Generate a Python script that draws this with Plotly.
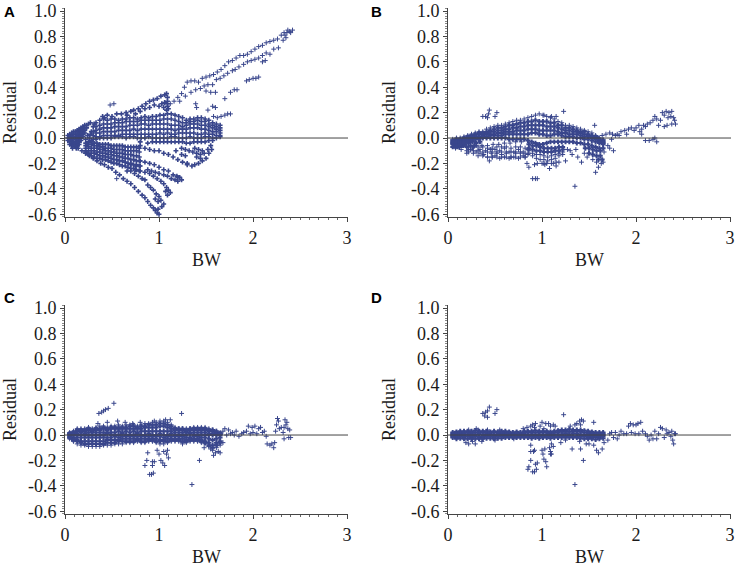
#!/usr/bin/env python3
import plotly.graph_objects as go

FIG_W = 738
FIG_H = 572
POINT_COLOR = '#39468c'

X_TICKS = [0, 1, 2, 3]
Y_TICKS = [-0.6, -0.4, -0.2, 0.0, 0.2, 0.4, 0.6, 0.8, 1.0]
Y_TICK_TEXT = ['-0.6', '-0.4', '-0.2', '0.0', '0.2', '0.4', '0.6', '0.8', '1.0']

# BW positions shared by the dense bands of panels B, C, D
BAND_BW = [
	.05, .09, .13, .17, .21, .25, .29, .33, .37, .41,
	.45, .49, .53, .57, .61, .65, .69, .73, .77, .81,
	.85, .89, .93, .97, 1.01, 1.05, 1.09, 1.13, 1.17, 1.21,
	1.25, 1.29, 1.33, 1.37, 1.41, 1.45, 1.49, 1.53, 1.57, 1.61,
	1.65,
]

# Panel A
A_BLOB = [
	(.03, 0), (.03, -.02), (.03, .02), (.05, .03), (.05, .01), (.05, -.01), (.05, -.03), (.05, -.05),
	(.07, .04), (.07, .02), (.07, 0), (.07, -.02), (.07, -.04), (.07, -.06), (.09, .05), (.09, .03),
	(.09, .01), (.09, -.01), (.09, -.03), (.09, -.05), (.11, .05), (.11, .03), (.11, .01), (.11, -.01),
	(.11, -.03), (.11, -.05), (.11, -.07), (.13, .06), (.13, .04), (.13, .02), (.13, 0), (.13, -.02),
	(.13, -.04), (.13, -.06), (.15, .07), (.15, .05), (.15, .03), (.15, .01), (.15, -.01), (.15, -.03),
	(.15, -.05), (.17, .08), (.17, .06), (.17, .04), (.17, .02), (.17, 0), (.17, -.02), (.19, .09),
	(.19, .07), (.19, .05), (.19, .03), (.19, .01), (.21, .1), (.21, .08), (.21, .06), (.21, .04),
	(.23, .1), (.23, .08), (.25, .11), (.27, .12), (.08, -.08), (.12, -.08),
	(.22, -.01), (.24, .02), (.26, 0), (.28, .05), (.3, .09), (.3, .05), (.3, .02), (.3, -.01),
	(.27, .03), (.25, -.03), (.28, -.02), (.31, .11),
]
A_ARM = [
	(1.12, .27), (1.16, .29), (1.2, .32), (1.24, .35), (1.27, .4), (1.3, .44), (1.34, .45), (1.38, .45),
	(1.42, .44), (1.46, .47), (1.5, .48), (1.54, .49), (1.58, .5), (1.62, .52), (1.66, .54), (1.7, .57),
	(1.74, .6), (1.78, .61), (1.82, .63), (1.86, .65), (1.9, .65), (1.94, .66), (1.98, .68), (2.02, .7),
	(2.06, .72), (2.1, .73), (2.14, .75), (2.18, .76), (2.22, .77), (2.26, .78), (2.3, .81), (2.33, .83),
	(2.36, .83), (2.39, .84), (2.42, .85), (2.35, .79), (2.32, .77), (2.37, .85), (2.34, .81), (2.4, .83),
	(1.22, .29), (1.28, .33), (1.34, .36), (1.39, .38), (1.44, .39), (1.48, .41), (1.52, .42), (1.57, .42),
	(1.61, .46), (1.65, .47), (1.69, .49), (1.73, .51), (1.78, .53), (1.81, .54), (1.85, .56), (1.9, .58),
	(1.94, .6), (1.98, .61), (2.02, .62), (2.06, .63), (2.1, .65), (2.14, .67), (2.18, .66), (2.22, .7),
	(2.27, .71), (2.1, .6), (2.13, .61), (1.5, .37), (1.55, .36), (1.6, .36),
	(1.57, .25), (1.6, .24), (1.7, .31), (1.76, .36), (1.8, .38), (1.83, .38), (1.93, .45), (1.96, .46),
	(2.0, .47), (2.03, .47), (2.06, .48), (1.39, .27), (1.4, .24), (1.52, .22), (1.58, .17), (1.62, .16),
	(1.66, .17), (1.7, .18), (1.73, .19), (1.76, .19), (.48, .26), (.52, .27),
]
A_TOP = [
	(.4, .17), (.42, .16), (.45, .18), (.5, .17), (.55, .19), (.6, .19), (.65, .2), (.7, .21),
	(.73, .22), (.78, .23), (.82, .25), (.86, .27), (.9, .29), (.94, .3), (.98, .31), (1.02, .33),
	(1.06, .34), (1.08, .35), (1.09, .32), (1.09, .29), (1.09, .27), (1.09, .25), (1.1, .23), (1.08, .22),
	(1.05, .24), (1.0, .25), (.95, .26), (.9, .24), (.85, .23), (.8, .21),
	(1.06, .28), (1.03, .27), (.75, .19), (.66, .18),
]
A_FAN_BW = [
	.33, .37, .41, .45, .49, .53, .57, .61, .65, .69,
	.73, .77, .81, .85, .89, .93, .97, 1.01, 1.05, 1.09,
	1.13, 1.17, 1.21, 1.25, 1.29, 1.33, 1.37, 1.41, 1.45, 1.49,
	1.53, 1.57, 1.61, 1.65,
]
A_FAN_1 = [
	.12, .14, .15, .14, .15, .15, .14, .15, .15, .16,
	.16, .15, .16, .17, .16, .17, .17, .18, .18, .19,
	.19, .18, .17, .16, .14, .15, .15, .16, .16, .15,
	.14, .12, .11, .1,
]
A_FAN_2 = [
	.09, .1, .11, .11, .11, .12, .12, .12, .13, .13,
	.13, .13, .14, .14, .14, .14, .14, .14, .15, .15,
	.15, .14, .13, .12, .12, .13, .13, .14, .13, .13,
	.11, .1, .09, .08,
]
A_FAN_3 = [
	.06, .07, .08, .08, .08, .09, .09, .09, .09, .1,
	.1, .1, .11, .11, .1, .11, .11, .11, .11, .11,
	.1, .1, .1, .09, .1, .11, .11, .11, .1, .1,
	.09, .08, .07, .06,
]
A_FAN_4 = [
	.04, .04, .05, .05, .05, .05, .06, .06, .06, .06,
	.07, .06, .07, .07, .07, .07, .07, .07, .07, .07,
	.07, .06, .07, .07, .07, .08, .08, .08, .07, .07,
	.06, .05, .05, .04,
]
A_FAN_5 = [
	.01, .01, .02, .02, .02, .02, .02, .03, .03, .03,
	.03, .03, .03, .03, .03, .03, .03, .04, .03, .04,
	.03, .03, .04, .04, .04, .04, .04, .03, .03, .04,
	.03, .03, .02, .02,
]
A_FAN_6 = [
	-.01, 0, 0, 0, 0, .01, .01, .01, 0, .01,
	.01, 0, 0, 0, .01, 0, 0, 0, 0, 0,
	.01, .01, 0, 0, 0, .01, 0, 0, 0, .01,
	.01, 0, 0, .01,
]
A_FAN_7_BW = [
	.93, .97, 1.01, 1.05, 1.09, 1.13, 1.17, 1.21, 1.25, 1.29,
	1.33, 1.37, 1.41, 1.45, 1.49, 1.53, 1.57,
]
A_FAN_7 = [
	-.03, -.03, -.03, -.03, -.03, -.03, -.03, -.03, -.03, -.04,
	-.04, -.03, -.03, -.03, -.03, -.02, -.02,
]
A_NEAR_BW = [
	.22, .25, .28, .31, .34, .37, .4, .43, .46, .49,
	.52, .55, .58, .61, .64, .67, .7, .73, .76, .79,
]
A_NEAR_1 = [
	-.04, -.03, -.03, -.04, -.04, -.05, -.05, -.05, -.05, -.06,
	-.06, -.06, -.06, -.06, -.07, -.07, -.07, -.07, -.07, -.08,
]
A_NEAR_2 = [
	-.06, -.05, -.05, -.06, -.06, -.07, -.07, -.08, -.08, -.08,
	-.09, -.09, -.09, -.09, -.1, -.1, -.1, -.1, -.1, -.11,
]
A_NEAR_3 = [
	-.08, -.07, -.08, -.08, -.08, -.09, -.09, -.1, -.1, -.11,
	-.11, -.12, -.12, -.12, -.13, -.13, -.13, -.14, -.14, -.15,
]
A_NEAR_4 = [
	-.1, -.1, -.1, -.1, -.11, -.11, -.12, -.12, -.13, -.13,
	-.14, -.14, -.15, -.15, -.16, -.16, -.17, -.17, -.18, -.18,
]
A_NEAR_5 = [
	-.11, -.12, -.12, -.12, -.13, -.14, -.14, -.15, -.15, -.16,
	-.17, -.17, -.18, -.18, -.19, -.2, -.2, -.21, -.21, -.22,
]
A_NEAR_6 = [
	-.12, -.13, -.14, -.15, -.16, -.16, -.17, -.17, -.18, -.19,
	-.2, -.2, -.21, -.22, -.22, -.23, -.24, -.24, -.25, -.26,
]
A_LOW_1 = [
	(.1, -.06), (.14, -.08), (.18, -.1), (.22, -.12), (.26, -.14), (.3, -.16), (.34, -.18), (.38, -.2),
	(.42, -.21), (.46, -.23), (.5, -.24), (.54, -.27), (.58, -.29), (.62, -.32), (.66, -.34), (.7, -.36),
	(.74, -.39), (.78, -.42), (.82, -.45), (.85, -.47), (.88, -.5), (.91, -.53), (.94, -.55), (.96, -.57),
	(.98, -.59), (1.0, -.6), (.99, -.56),
]
A_LOW_2 = [
	(.66, -.26), (.7, -.26), (.74, -.28), (.78, -.3),
	(.82, -.32), (.85, -.33), (.88, -.37), (.91, -.39), (.94, -.41), (.97, -.44), (1.0, -.46), (1.02, -.49),
	(1.05, -.52), (.96, -.48), (.99, -.5), (1.03, -.54),
]
A_LOW_3 = [
	(.75, -.25), (.8, -.26), (.85, -.27), (.9, -.28), (.94, -.3), (.98, -.32), (1.02, -.34),
	(1.05, -.36), (1.08, -.39), (1.1, -.41), (1.12, -.43), (1.07, -.42), (1.09, -.45),
	(.88, -.25), (.92, -.26), (.96, -.27), (1.0, -.28), (1.05, -.29), (1.09, -.3), (1.13, -.32), (1.17, -.33),
	(1.2, -.34), (1.24, -.33), (1.22, -.31), (1.19, -.3),
]
A_LOW_4 = [
	(.8, -.18), (.85, -.19), (.9, -.2),
	(.95, -.21), (1.0, -.23), (1.05, -.25), (1.1, -.26), (1.15, -.29), (1.2, -.31),
	(.7, -.21), (.75, -.22), (.8, -.22),
]
A_LOW_5 = [
	(.8, -.06),
	(.85, -.08), (.9, -.09), (.95, -.1), (1.0, -.1), (1.05, -.12), (1.1, -.13), (1.15, -.15), (1.2, -.17),
	(1.25, -.19), (1.3, -.2), (1.35, -.22), (1.3, -.21), (1.38, -.21), (1.42, -.2), (1.46, -.18), (1.5, -.16),
	(1.53, -.12), (1.56, -.09),
	(.8, -.03), (.88, -.04), (1.24, -.08),
	(1.28, -.09), (1.32, -.1), (1.36, -.11), (1.4, -.12), (1.44, -.13), (1.48, -.12), (1.52, -.09), (1.55, -.06),
	(1.38, -.08), (1.42, -.09), (1.46, -.1), (1.4, -.15), (1.44, -.16), (1.18, -.1), (1.24, -.13), (1.28, -.14),
]
A_STRAY = [(.55, -.32)]

# Panel B
B_ROW_1 = [
	-.01, 0, 0, .01, .02, .03, .04, .05, .05, .07,
	.08, .09, .1, .1, .11, .12, .13, .14, .14, .15,
	.16, .17, .18, .19, .18, .17, .16, .15, .13, .12,
	.1, .1, .09, .08, .07, .06, .05, .04, .02, 0,
	-.01,
]
B_ROW_2 = [
	-.02, -.01, -.01, 0, .01, .02, .03, .04, .04, .05,
	.06, .07, .08, .08, .09, .1, .1, .11, .12, .12,
	.13, .13, .14, .13, .13, .13, .12, .12, .1, .1,
	.08, .08, .07, .06, .05, .05, .03, .02, .01, -.01,
	-.02,
]
B_ROW_3 = [
	-.03, -.02, -.02, -.01, 0, .01, .02, .03, .03, .04,
	.05, .05, .06, .06, .07, .07, .08, .08, .09, .09,
	.1, .1, .1, .1, .1, .09, .09, .09, .08, .07,
	.06, .06, .05, .05, .04, .03, .02, .01, 0, -.02,
	-.03,
]
B_ROW_4 = [
	-.04, -.03, -.03, -.02, -.01, 0, .01, .01, .02, .03,
	.03, .03, .04, .04, .05, .05, .05, .06, .06, .06,
	.07, .07, .07, .06, .06, .06, .06, .06, .05, .04,
	.04, .03, .03, .03, .02, .01, .01, 0, -.01, -.03,
	-.04,
]
B_ROW_5 = [
	-.05, -.05, -.04, -.03, -.02, -.01, -.01, 0, .01, .01,
	.02, .02, .02, .02, .03, .03, .03, .03, .03, .03,
	.03, .04, .04, .03, .03, .02, .02, .03, .03, .02,
	.01, .01, .01, 0, 0, -.01, -.01, -.02, -.03, -.04,
	-.05,
]
B_ROW_6 = [
	-.07, -.06, -.05, -.04, -.03, -.02, -.01, -.01, 0, 0,
	0, 0, 0, 0, 0, -.01, -.01, -.01, -.01, -.01,
	-.02, -.03, -.04, -.05, -.05, -.04, -.03, -.03, -.03, -.03,
	-.03, -.03, -.03, -.04, -.04, -.05, -.05, -.06, -.07, -.08,
	-.08,
]
B_LOW_BW = [.86, .9, .94, .98, 1.02, 1.06, 1.1, 1.14, 1.18, 1.22]
B_LOW_1 = [-.05, -.06, -.06, -.07, -.08, -.08, -.08, -.08, -.07, -.07]
B_LOW_2 = [-.08, -.09, -.1, -.1, -.11, -.11, -.11, -.1, -.1, -.09]
B_LOW_3 = [-.1, -.12, -.13, -.13, -.14, -.15, -.14, -.13, -.12, -.11]
B_LOW_4 = [-.12, -.14, -.16, -.17, -.17, -.18, -.17, -.16, -.14, -.13]
B_THIN_BW = [.22, .27, .32, .37, .42, .47, .52, .57, .62, .67, .72, .77, .82]
B_THIN_1 = [-.07, -.07, -.07, -.07, -.08, -.08, -.07, -.07, -.07, -.08, -.07, -.07, -.08]
B_THIN_2 = [-.09, -.1, -.1, -.11, -.11, -.11, -.12, -.11, -.12, -.11, -.12, -.11, -.12]
B_THIN_3 = [-.11, -.12, -.14, -.14, -.15, -.15, -.15, -.15, -.15, -.15, -.15, -.15, -.15]
B_BLOBS = [
	(1.5, -.08), (1.54, -.09), (1.58, -.1), (1.62, -.1), (1.54, -.13), (1.58, -.14), (1.62, -.14), (1.6, -.17),
	(1.64, -.17), (1.5, -.12), (1.46, -.08),
	(.06, -.05), (.08, -.07), (.1, -.07), (.12, -.07), (.14, -.06), (.16, -.06), (.18, -.05), (.06, -.03),
	(.1, -.05), (.14, -.04), (.18, -.03), (.22, -.04), (.26, -.03), (.3, -.04), (.34, -.03), (.24, -.06),
	(.28, -.06), (.2, -.07),
]
B_SPARSE = [
	(.08, -.08), (.14, -.09), (.2, -.1), (.2, -.12), (.26, -.08), (.3, -.11), (.34, -.09), (.38, -.13),
	(.42, -.15), (.44, -.18), (.46, -.12), (.5, -.14), (.55, -.16), (.6, -.15), (.65, -.16), (.7, -.15),
	(.75, -.16), (.8, -.14), (.85, -.13), (.5, -.09), (.55, -.1), (.6, -.08), (.65, -.11), (.7, -.11),
	(.75, -.09), (.8, -.11), (.85, -.09), (.3, -.06), (.36, -.06), (.42, -.06), (.48, -.05), (.54, -.05),
	(.6, -.04), (.66, -.04), (.72, -.03), (.78, -.03), (.24, -.09), (.34, -.12), (.4, -.1), (.45, -.09),
	(.47, -.15), (.52, -.11), (.57, -.13), (.62, -.11), (.67, -.15), (.72, -.11), (.77, -.12), (.82, -.15),
	(.84, -.2), (.86, -.23), (.92, -.21), (.9, -.32), (.93, -.32), (.95, -.32), (.95, -.2), (1.0, -.2),
	(1.02, -.2), (1.05, -.2), (1.08, -.24), (1.03, -.21), (1.1, -.2), (1.12, -.2),
	(1.15, -.19), (1.15, -.22), (1.18, -.19), (1.25, -.18), (1.3, -.1), (1.32, -.13), (1.38, -.15),
	(1.42, -.19), (1.45, -.12), (1.48, -.15), (1.54, -.17), (1.58, -.19), (1.6, -.23), (1.57, -.27),
	(1.63, -.2), (1.65, -.19), (1.66, -.11), (1.7, -.06), (1.72, -.08), (1.76, -.1), (1.27, -.09), (1.36, -.09),
	(1.35, -.38), (1.56, .1), (1.23, .21), (.37, .17), (.4, .17), (.42, .16), (.43, .19), (.44, .22),
	(.5, .17), (.52, .2), (1.1, .17), (1.15, .17), (1.02, .18),
]
B_ARM = [
	(1.6, 0), (1.64, .02), (1.68, .03), (1.72, .04), (1.75, .03), (1.78, .02), (1.8, .03), (1.84, .05),
	(1.88, .06), (1.92, .07), (1.95, .08), (1.98, .06), (2.0, .08), (2.03, .1), (2.06, .07), (2.08, .1),
	(2.1, .09), (2.12, .11), (2.15, .12), (2.18, .14), (2.2, .17), (2.22, .15), (2.24, .1), (2.26, .14),
	(2.28, .2), (2.3, .18), (2.32, .21), (2.34, .16), (2.35, .2), (2.37, .17), (2.38, .21), (2.4, .16),
	(2.41, .14), (2.42, .11), (2.38, .11), (2.33, .1), (2.3, .09), (2.06, .03), (2.1, -.02), (2.14, -.02),
	(2.2, 0), (2.22, -.03), (2.18, -.01), (2.04, .05), (1.9, .03), (1.82, .02), (1.74, -.01),
]

# Panel C
C_ROW_1 = [
	.02, .03, .05, .05, .05, .06, .05, .06, .07, .07,
	.06, .07, .07, .08, .07, .08, .08, .08, .07, .08,
	.09, .09, .1, .1, .11, .11, .1, .08, .06, .05,
	.05, .05, .05, .06, .06, .06, .06, .05, .04, .03,
	.02,
]
C_ROW_2 = [
	.01, .02, .03, .03, .03, .04, .03, .04, .04, .05,
	.04, .05, .05, .05, .05, .05, .05, .05, .05, .05,
	.06, .06, .06, .06, .07, .07, .06, .05, .04, .04,
	.04, .03, .04, .04, .04, .04, .04, .03, .03, .02,
	.01,
]
C_ROW_3 = [
	.01, .01, .01, .02, .01, .02, .02, .02, .02, .02,
	.02, .02, .02, .03, .02, .03, .02, .03, .02, .03,
	.03, .03, .03, .03, .03, .03, .03, .03, .02, .02,
	.02, .02, .02, .02, .02, .02, .02, .01, .01, .01,
	.01,
]
C_ROW_4 = [
	0, 0, 0, 0, 0, 0, 0, 0, 0, 0,
	.01, 0, 0, 0, .01, 0, 0, 0, .01, 0,
	0, .01, 0, 0, .01, 0, 0, .01, 0, 0,
	0, 0, .01, 0, 0, 0, 0, 0, 0, 0,
	0,
]
C_ROW_5 = [
	-.01, -.02, -.02, -.02, -.02, -.02, -.02, -.02, -.02, -.02,
	-.02, -.02, -.01, -.02, -.01, -.01, -.01, -.01, -.01, -.01,
	-.01, -.01, -.01, -.01, -.01, -.02, -.01, -.01, -.01, -.01,
	-.01, -.02, -.02, -.01, -.01, -.02, -.02, -.03, -.04, -.03,
	-.02,
]
C_ROW_6 = [
	-.02, -.03, -.04, -.05, -.05, -.05, -.05, -.05, -.05, -.05,
	-.04, -.04, -.04, -.04, -.03, -.03, -.03, -.03, -.03, -.03,
	-.03, -.03, -.03, -.03, -.04, -.04, -.03, -.03, -.03, -.03,
	-.03, -.04, -.03, -.03, -.03, -.04, -.05, -.06, -.08, -.06,
	-.05,
]
C_ROW_7 = [
	-.03, -.05, -.07, -.08, -.08, -.09, -.09, -.09, -.09, -.08,
	-.08, -.08, -.07, -.07, -.07, -.06, -.06, -.06, -.05, -.06,
	-.06, -.05, -.05, -.06, -.07, -.07, -.06, -.05, -.05, -.05,
	-.06, -.06, -.05, -.05, -.05, -.06, -.07, -.09, -.12, -.1,
	-.08,
]
C_FILL_UP = [
	.01, .02, .04, .04, .04, .05, .04, .05, .05, .06,
	.05, .06, .06, .06, .06, .06, .07, .07, .06, .07,
	.07, .08, .08, .08, .09, .09, .08, .07, .05, .05,
	.05, .04, .05, .05, .05, .05, .05, .04, .04, .03,
	.01,
]
C_FILL_LOW = [
	-.02, -.04, -.05, -.06, -.07, -.07, -.07, -.07, -.07, -.07,
	-.06, -.06, -.06, -.05, -.05, -.05, -.05, -.05, -.04, -.05,
	-.05, -.04, -.04, -.05, -.05, -.05, -.05, -.04, -.04, -.04,
	-.05, -.05, -.04, -.04, -.04, -.05, -.06, -.08, -.1, -.08,
	-.06,
]
C_SPARSE = [
	(.36, .17), (.39, .18), (.41, .19), (.43, .2), (.46, .21), (.52, .25), (.35, .09), (.45, .1),
	(.56, .11), (.64, .1), (.72, .09), (.8, .1), (1.24, .17), (1.07, .12), (1.12, .12), (.95, .11),
	(.85, -.24), (.87, -.2), (.88, -.14), (.9, -.31), (.92, -.31), (.94, -.3), (.93, -.21), (.95, -.21),
	(.93, -.24), (.98, -.12), (1.0, -.15), (1.02, -.2), (1.04, -.22), (1.06, -.24), (1.05, -.13), (1.08, -.15),
	(1.09, -.12), (1.1, -.18), (1.35, -.39), (1.43, -.2), (1.25, -.07), (1.48, -.1), (1.6, -.14), (1.58, -.16),
	(1.55, -.11), (1.63, -.13), (1.65, -.14), (1.68, -.06), (1.62, -.08),
	(1.68, .03), (1.7, .05), (1.72, 0), (1.74, .04), (1.76, .01), (1.78, .02), (1.8, 0), (1.82, .03),
	(1.85, -.01), (1.88, .01), (1.9, .02), (1.93, .03), (1.95, .07), (1.97, .01), (1.99, .06), (2.0, .02),
	(2.02, .07), (2.04, .01), (2.06, .05), (2.08, .06), (2.1, .02), (2.12, .03), (2.14, -.01), (2.15, -.07),
	(2.18, -.08), (2.2, -.07), (2.22, -.1), (2.23, -.06), (2.24, .03), (2.25, .08), (2.27, .11), (2.28, .05),
	(2.3, .06), (2.32, .02), (2.33, -.03), (2.34, .12), (2.35, .08), (2.36, .1), (2.37, .05), (2.38, -.02),
	(2.39, .04), (2.4, -.02), (2.26, .13), (2.33, .06),
]

# Panel D
D_ROW_1 = [
	.02, .025, .03, .03, .03, .03, .035, .03, .03, .03,
	.025, .03, .025, .03, .03, .025, .02, .025, .02, .03,
	.03, .03, .035, .03, .03, .03, .025, .03, .035, .04,
	.04, .045, .04, .04, .04, .035, .03, .025, .02, .02,
	.02,
]
D_ROW_2 = [
	.01, .015, .015, .015, .02, .015, .02, .015, .02, .015,
	.015, .02, .015, .015, .015, .015, .01, .015, .015, .015,
	.02, .02, .02, .02, .02, .02, .015, .02, .02, .025,
	.025, .025, .025, .03, .025, .02, .015, .015, .01, .01,
	.01,
]
D_ROW_3 = [
	0, 0, 0, 0, .005, 0, 0, .005, 0, 0,
	.005, 0, 0, .005, 0, 0, 0, .005, 0, .005,
	0, .005, 0, .005, 0, .005, 0, .005, .005, .005,
	.01, .005, .01, .01, .005, 0, 0, 0, 0, 0,
	0,
]
D_ROW_4 = [
	-.01, -.015, -.01, -.015, -.01, -.015, -.01, -.015, -.015, -.01,
	-.01, -.015, -.01, -.01, -.01, -.01, -.01, -.01, -.01, -.01,
	-.01, -.01, -.01, -.01, -.01, -.01, -.01, -.01, -.01, -.005,
	-.01, -.005, -.01, -.01, -.01, -.01, -.015, -.015, -.015, -.015,
	-.01,
]
D_ROW_5 = [
	-.02, -.03, -.025, -.03, -.03, -.03, -.03, -.03, -.03, -.025,
	-.025, -.03, -.025, -.025, -.02, -.02, -.02, -.02, -.02, -.02,
	-.02, -.025, -.02, -.025, -.02, -.02, -.025, -.02, -.02, -.02,
	-.02, -.02, -.02, -.02, -.025, -.03, -.03, -.03, -.035, -.03,
	-.025,
]
D_SPARSE = [
	(.19, -.06), (.22, -.07), (.26, -.05), (.29, -.07), (.3, .05), (.22, .04), (.32, .04), (.36, -.05),
	(.42, .04), (.5, -.04), (.55, .04), (.7, -.03),
	(.37, .17), (.39, .15), (.4, .18), (.42, .19), (.42, .14), (.44, .22), (.5, .17), (.52, .2),
	(.8, .05), (.84, .06), (.88, .07), (.9, .08), (.92, .06), (.93, .09), (.98, .07), (1.0, .1),
	(1.02, .05), (1.04, .09), (1.07, .09), (1.09, .07), (1.12, .08), (1.14, .07), (1.18, .03), (1.23, .16),
	(1.3, .07), (1.35, .08), (1.37, .09), (1.4, .11), (1.42, .12), (1.44, .11), (1.41, .08), (1.55, .1),
	(.85, -.27), (.86, -.25), (.88, -.2), (.9, -.29), (.92, -.29), (.94, -.27), (.93, -.23), (.95, -.22),
	(.88, -.13), (.91, -.13), (.88, -.08), (.92, -.12), (1.0, -.12), (1.01, -.15), (1.03, -.11), (1.02, -.19),
	(1.04, -.21), (1.05, -.25), (1.08, -.1), (1.09, -.13), (1.09, -.15), (1.1, -.07), (1.1, -.15), (1.12, -.09),
	(1.2, -.06), (1.25, -.04), (1.32, -.11), (1.35, -.39), (1.41, -.11), (1.44, -.2), (1.4, -.05), (1.47, -.07),
	(1.5, -.07), (1.55, -.08), (1.58, -.12), (1.6, -.14), (1.64, -.11), (1.66, -.06), (1.7, -.04),
	(1.72, .01), (1.74, .02), (1.76, -.02), (1.78, .02), (1.8, -.03), (1.82, 0), (1.84, .03), (1.87, .01),
	(1.9, .01), (1.92, .07), (1.94, .09), (1.95, .02), (1.97, .08), (1.99, .01), (2.0, .08), (2.02, .09),
	(2.03, .01), (2.05, .1), (2.07, .03), (2.1, .01), (2.12, -.01), (2.14, -.04), (2.16, 0), (2.18, -.03),
	(2.2, .03), (2.22, -.03), (2.24, .01), (2.26, .06), (2.28, .05), (2.3, -.02), (2.32, .04), (2.33, .01),
	(2.35, .02), (2.37, -.01), (2.38, .03), (2.4, -.07), (2.41, .01), (2.42, .01), (2.39, -.04),
]

# pixel positions of each plot area: left, right, top, bottom, then the panel letter
PANELS = [
	('A', 65, 348, 8, 217, 2, 11),
	('B', 448, 731, 8, 217, 369, 11),
	('C', 65, 348, 305, 514, 2, 297),
	('D', 448, 731, 305, 514, 369, 297),
]


def FromRows(bw, *rows):
	return [ (x, v) for row in rows for x, v in zip(bw, row) ]


DENSE_POINTS = [
	A_BLOB + A_TOP + A_LOW_1 + A_LOW_2 + A_LOW_3 + A_LOW_4 + A_LOW_5 +
		FromRows(A_FAN_BW, A_FAN_1, A_FAN_2, A_FAN_3, A_FAN_4, A_FAN_5, A_FAN_6) +
		FromRows(A_FAN_7_BW, A_FAN_7) +
		FromRows(A_NEAR_BW, A_NEAR_1, A_NEAR_2, A_NEAR_3, A_NEAR_4, A_NEAR_5, A_NEAR_6),
	B_BLOBS + FromRows(BAND_BW, B_ROW_2, B_ROW_3, B_ROW_4, B_ROW_5, B_ROW_6) +
		FromRows(B_LOW_BW, B_LOW_1, B_LOW_2),
	FromRows(BAND_BW, C_ROW_2, C_ROW_3, C_ROW_4, C_ROW_5, C_ROW_6, C_FILL_UP, C_FILL_LOW),
	FromRows(BAND_BW, D_ROW_1, D_ROW_2, D_ROW_3, D_ROW_4, D_ROW_5),
]
SPARSE_POINTS = [
	A_ARM + A_STRAY,
	B_SPARSE + B_ARM + FromRows(BAND_BW, B_ROW_1) + FromRows(B_LOW_BW, B_LOW_3, B_LOW_4) +
		FromRows(B_THIN_BW, B_THIN_1, B_THIN_2, B_THIN_3),
	C_SPARSE + FromRows(BAND_BW, C_ROW_1, C_ROW_7),
	D_SPARSE,
]
DENSE_WIDTHS = [1.6, 2, 2, 2]


def PointTrace(points, suffix, width):
	return go.Scatter(
		x=[ p[0] for p in points ],
		y=[ p[1] for p in points ],
		xaxis=f'x{suffix}',
		yaxis=f'y{suffix}',
		mode='markers',
		marker=dict(
			symbol='cross-thin',
			size=3.5,
			line=dict(color=POINT_COLOR, width=width),
		),
		showlegend=False,
	)


fig = go.Figure()
tickFont = dict(family='Liberation Serif', size=18, color='#1a1a1a')

for i, (name, left, right, top, bottom, labelX, labelY) in enumerate(PANELS):
	suffix = '' if i == 0 else str(i + 1)
	fig.add_trace(PointTrace(SPARSE_POINTS[i], suffix, 1))
	fig.add_trace(PointTrace(DENSE_POINTS[i], suffix, DENSE_WIDTHS[i]))
	fig.add_trace(go.Scatter(
		x=[0, 3.01],
		y=[0, 0],
		xaxis=f'x{suffix}',
		yaxis=f'y{suffix}',
		mode='lines',
		line=dict(color='#444444', width=1),
		showlegend=False,
	))
	fig.update_layout({
		f'xaxis{suffix}': dict(
			domain=[left / FIG_W, right / FIG_W],
			anchor=f'y{suffix}',
			range=[0, 3.01],
			automargin=False,
			tickvals=X_TICKS,
			ticks='outside',
			ticklen=4,
			tickcolor='#444444',
			tickfont=tickFont,
			showgrid=False,
			zeroline=False,
			showline=True,
			linecolor='#444444',
			minor=dict(dtick=0.1, ticks='outside', ticklen=2, tickcolor='#666666'),
			title=dict(text='BW', font=tickFont, standoff=6),
		),
		f'yaxis{suffix}': dict(
			domain=[1 - bottom / FIG_H, 1 - top / FIG_H],
			anchor=f'x{suffix}',
			range=[-0.622, 1.024],
			automargin=False,
			tickvals=Y_TICKS,
			ticktext=Y_TICK_TEXT,
			ticks='outside',
			ticklen=4,
			tickcolor='#444444',
			tickfont=tickFont,
			showgrid=False,
			zeroline=False,
			showline=True,
			linecolor='#444444',
			minor=dict(dtick=0.02, ticks='outside', ticklen=2, tickcolor='#888888'),
			title=dict(text='Residual', font=tickFont, standoff=10),
		),
	})
	fig.add_annotation(
		text=f'<b>{name}</b>',
		xref='paper',
		yref='paper',
		x=labelX / FIG_W,
		y=1 - labelY / FIG_H,
		xanchor='left',
		yanchor='middle',
		showarrow=False,
		font=dict(family='Liberation Sans', size=15, color='black'),
	)

fig.update_layout(
	autosize=False,
	width=FIG_W,
	height=FIG_H,
	margin=dict(l=0, r=0, t=0, b=0),
	paper_bgcolor='white',
	plot_bgcolor='white',
)

# the page's default body margin would push the figure off the window
fig.write_html(
	'out.html',
	config=dict(displayModeBar=False),
	post_script="document.body.style.margin='0';",
)
